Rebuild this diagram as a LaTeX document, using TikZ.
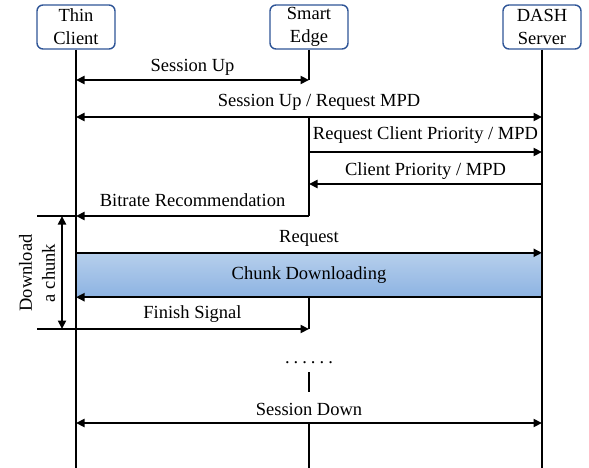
\documentclass[tikz,border=0pt]{standalone}
\usepackage{fontspec}
\setmainfont{Liberation Serif}
\usetikzlibrary{arrows.meta,positioning}
\definecolor{entityblue}{HTML}{2F5597}
\definecolor{chunktop}{HTML}{B6CFEC}
\definecolor{chunkbottom}{HTML}{8DB3E2}
\tikzset{
    entity/.style={
        draw=entityblue,
        fill=white,
        rounded corners=6pt,
        line width=1.4pt,
        minimum width=78pt,
        minimum height=44pt,
        inner sep=1pt,
        align=center
    },
    lifeline/.style={
        draw=black,
        line width=2.6pt
    },
    message/.style={
        -{Triangle[length=8.5pt,width=8pt]},
        draw=black,
        line width=2.4pt
    },
    twoway/.style={
        {Triangle[length=8.5pt,width=8pt]}-{Triangle[length=8.5pt,width=8pt]},
        draw=black,
        line width=2.4pt
    },
    chunkbox/.style={
        top color=chunktop,
        bottom color=chunkbottom,
        draw=none,
        minimum width=466pt,
        minimum height=44pt,
        inner sep=0pt
    },
    bracketline/.style={
        draw=black,
        line width=2.2pt
    }
}

\begin{document}
\begin{tikzpicture}[x=1pt,y=-1pt,font=\fontsize{18.5}{23}\selectfont]
        \useasboundingbox (0,0) rectangle (589,468);

        \node[entity] (thinTop) at (76,27) {Thin\\Client};
        \node[entity] (edgeTop) at (309,27) {Smart\\Edge};
        \node[entity] (dashTop) at (542,27) {DASH\\Server};

        \coordinate (thinEnd) at (76,468);
        \coordinate (edgeEnd) at (309,468);
        \coordinate (dashEnd) at (542,468);

        % message levels
        \coordinate (ySessionUp) at (0,80);
        \coordinate (yRequestMPD) at (0,117);
        \coordinate (yPriorityReq) at (0,152);
        \coordinate (yPriority) at (0,184);
        \coordinate (yBitrate) at (0,216);
        \coordinate (yFinish) at (0,329);
        \coordinate (yGapTop) at (0,372);
        \coordinate (yGapBottom) at (0,392);
        \coordinate (ySessionDown) at (0,423);

        \node[chunkbox] (chunk) at (309,275) {Chunk Downloading};

        \draw[lifeline] (thinTop.south) -- (thinEnd);
        \draw[lifeline] (dashTop.south) -- (dashEnd);
        \draw[lifeline] (edgeTop.south) -- (edgeTop |- ySessionUp);
        \draw[lifeline] (edgeTop |- yRequestMPD) -- (edgeTop |- yBitrate);
        \draw[lifeline] (edgeTop |- chunk.south) -- (edgeTop |- yFinish);
        \draw[lifeline] (edgeTop |- yGapTop) -- (edgeTop |- yGapBottom);
        \draw[lifeline] (edgeTop |- ySessionDown) -- (edgeEnd);

        \draw[twoway] (thinTop |- ySessionUp) --
            node[above=0pt]{Session Up} (edgeTop |- ySessionUp);
        \draw[twoway] (thinTop |- yRequestMPD) --
            node[above=2pt,xshift=10pt]{Session Up / Request MPD} (dashTop |- yRequestMPD);
        \draw[message] (edgeTop |- yPriorityReq) --
            node[above=4pt]{Request Client Priority / MPD} (dashTop |- yPriorityReq);
        \draw[message] (dashTop |- yPriority) --
            node[above=0pt]{Client Priority / MPD} (edgeTop |- yPriority);
        \draw[message] (edgeTop |- yBitrate) --
            node[above=5pt]{Bitrate Recommendation} (thinTop |- yBitrate);
        \draw[message] (thinTop |- chunk.north) --
            node[above=2pt]{Request} (dashTop |- chunk.north);
        \draw[message] (dashTop |- chunk.south) -- (thinTop |- chunk.south);
        \draw[message] (thinTop |- yFinish) --
            node[above=2pt]{Finish Signal} (edgeTop |- yFinish);
        \draw[twoway] (thinTop |- ySessionDown) --
            node[above=3pt]{Session Down} (dashTop |- ySessionDown);

        \node[anchor=base] (dots) at (309,363)
            {.\hspace{4pt}.\hspace{4pt}.\hspace{4pt}.\hspace{4pt}.\hspace{4pt}.};

        % download bracket
        \coordinate (bracketTop) at (37,216);
        \coordinate (bracketBottom) at (37,329);
        \draw[bracketline] (bracketTop) -- (thinTop |- bracketTop);
        \draw[bracketline] (bracketBottom) -- (thinTop |- bracketBottom);
        \draw[twoway,line width=2pt] ([xshift=25pt]bracketTop) -- ([xshift=25pt]bracketBottom);
        \node[rotate=90,align=center] (chunkLabel) at (37,273) {Download\\a chunk};
    \end{tikzpicture}
\end{document}
